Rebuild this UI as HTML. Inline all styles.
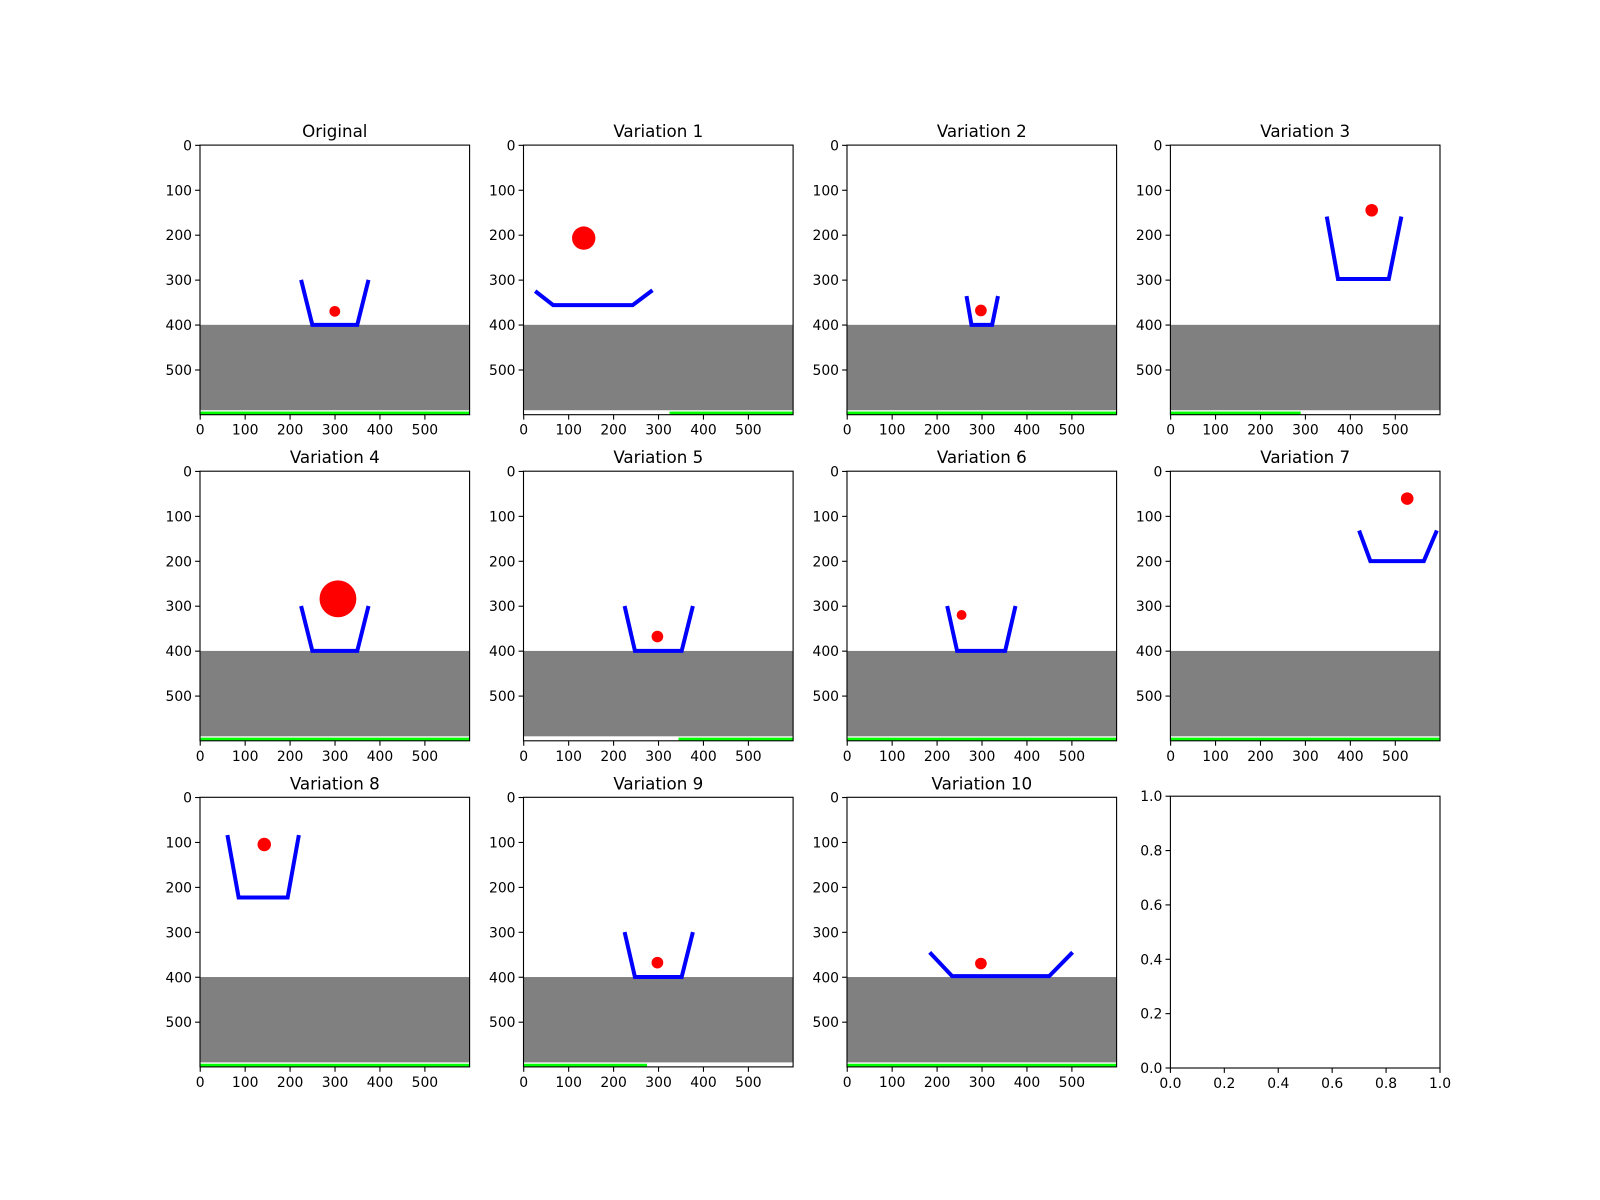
<!DOCTYPE html>
<html><head><meta charset="utf-8"><style>
html,body{margin:0;padding:0;background:#fff;}
svg{display:block;font-family:"DejaVu Sans","Liberation Sans",sans-serif;}
</style></head><body>
<svg id="fig" width="1600" height="1200" viewBox="0 0 1600 1200" xmlns="http://www.w3.org/2000/svg"></svg>
<script>
const titles = ["Original","Variation 1","Variation 2","Variation 3","Variation 4","Variation 5","Variation 6","Variation 7","Variation 8","Variation 9","Variation 10"];
// basket polyline points [x,y] in image units
const baskets = [
 [[225,300],[250,400],[350,400],[375,300]],
 [[26,325],[66,356],[243,356],[287,323]],
 [[266,336],[277,400],[323,400],[336,336]],
 [[348,159],[373,298],[486,298],[514,159]],
 [[225,300],[250,400],[350,400],[375,300]],
 [[225,300],[248,400],[352,400],[377,300]],
 [[223,300],[245,400],[352,400],[375,300]],
 [[420,132],[445,200],[564,200],[593,132]],
 [[61,84],[86,223],[195,223],[220,84]],
 [[225,300],[248,400],[352,400],[377,300]],
 [[184,345],[234,398],[450,398],[502,345]]
];
const ballX = [300,134,298,448,307,298,255,527,143,298,298];
const ballY = [370,207,368,145,284,368,320,61,105,368,370];
const ballR = [12,26,13,14,41,13,11,14,15,13,13];
const greenStart = [0,325,0,0,0,345,0,0,0,0,0];
const greenEnd = [600,600,600,290,600,600,600,600,600,275,600];
const groundTop = 400, groundBottom = 590;
const imgTicks = [0,100,200,300,400,500];
const emptyTicks = [0,0.2,0.4,0.6,0.8,1.0];
const emptyTickLabels = ["0.0","0.2","0.4","0.6","0.8","1.0"];

const NS="http://www.w3.org/2000/svg";
const svg=document.getElementById('fig');
const colX=[200,523.5,847,1170.4];
const rowY=[145.1,471.2,797.3];
const W=269.6, S=W/600;
function mk(tag,attrs,parent){const e=document.createElementNS(NS,tag);for(const k in attrs)e.setAttribute(k,attrs[k]);(parent||svg).appendChild(e);return e;}

for(let i=0;i<11;i++){
  const L=colX[i%4], T=rowY[Math.floor(i/4)];
  const sx=v=>L+(v+0.5)*S, sy=v=>T+(v+0.5)*S;
  const px=v=>L+v*S, py=v=>T+v*S;
  const g=mk('g',{});
  
  
  const cp='cp'+i;
  const c=mk('clipPath',{id:cp},g); mk('rect',{x:L,y:T,width:W,height:W},c);
  const plot=mk('g',{'clip-path':'url(#'+cp+')'},g);
  const bg=mk('rect',{x:L,y:T,width:W,height:W,fill:'#fff'},plot);
  const gr=mk('rect',{x:L,y:py(groundTop),width:W,height:(groundBottom-groundTop)*S,fill:'#808080'},plot);
  
  
  const gn=mk('rect',{x:px(greenStart[i]),y:py(593),width:(greenEnd[i]-greenStart[i])*S,height:7*S,fill:'#00ff00'},plot);
  
  
  const bk=mk('polyline',{points:baskets[i].map(p=>px(p[0])+','+py(p[1])).join(' '),fill:'none',stroke:'#0000ff','stroke-width':4,'stroke-linejoin':'miter'},plot);
  
  
  const ball=mk('circle',{cx:px(ballX[i]),cy:py(ballY[i]),r:ballR[i]*S,fill:'#ff0000'},plot);
  
  
  mk('rect',{x:L,y:T,width:W,height:W,fill:'none',stroke:'#000','stroke-width':1.1},g);
  imgTicks.forEach(t=>{
    mk('line',{x1:sx(t),x2:sx(t),y1:T+W,y2:T+W+4.9,stroke:'#000','stroke-width':1.1},g);
    const tx=mk('text',{x:sx(t),y:T+W+20,'font-size':13.9,'text-anchor':'middle'},g);tx.textContent=t;
    
    
    mk('line',{x1:L-4.9,x2:L,y1:sy(t),y2:sy(t),stroke:'#000','stroke-width':1.1},g);
    const ty=mk('text',{x:L-8,y:sy(t)+5,'font-size':13.9,'text-anchor':'end'},g);ty.textContent=t;
    
    
  });
  const ti=mk('text',{x:L+W/2,y:T-8,'font-size':16.7,'text-anchor':'middle'},g);ti.textContent=titles[i];
  
  
}
// empty axes
{
  const L=1170.4,T=796.2,Wd=269.6,H=271.8;
  const g=mk('g',{});
  
  
  mk('rect',{x:L,y:T,width:Wd,height:H,fill:'#fff',stroke:'#000','stroke-width':1.1},g);
  emptyTicks.forEach((t,k)=>{
    const x=L+t*Wd, y=T+H-t*H;
    mk('line',{x1:x,x2:x,y1:T+H,y2:T+H+4.9,stroke:'#000','stroke-width':1.1},g);
    const tx=mk('text',{x:x,y:T+H+20,'font-size':13.9,'text-anchor':'middle'},g);tx.textContent=emptyTickLabels[k];
    
    
    mk('line',{x1:L-4.9,x2:L,y1:y,y2:y,stroke:'#000','stroke-width':1.1},g);
    const ty=mk('text',{x:L-8,y:y+5,'font-size':13.9,'text-anchor':'end'},g);ty.textContent=emptyTickLabels[k];
    
    
  });
}
</script>
</body></html>
